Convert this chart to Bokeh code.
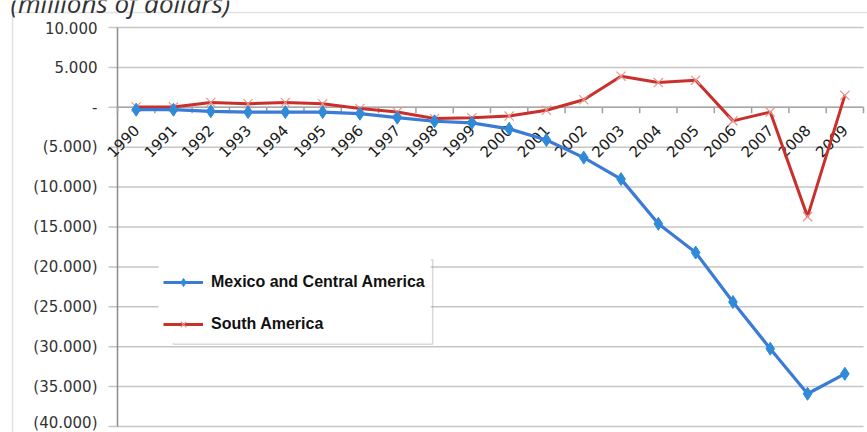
import numpy as np
from bokeh.plotting import figure
from bokeh.models import Range1d, Legend, LegendItem, BoxAnnotation, Label
from bokeh.core.properties import value
from bokeh.embed import file_html
from bokeh.resources import INLINE

# ---------------- data ----------------
years = [str(y) for y in range(1990, 2010)]
mexico_ca = [-300, -300, -500, -600, -600, -600, -800, -1300, -1750, -1950,
             -2700, -4100, -6300, -9000, -14600, -18200, -24400, -30250, -35900, -33400]
south_america = [50, 50, 600, 450, 600, 450, -150, -600, -1400, -1300,
                 -1100, -375, 950, 3900, 3100, 3400, -1700, -600, -13700, 1500]
y_ticks = [-40000, -35000, -30000, -25000, -20000, -15000, -10000, -5000, 0, 5000, 10000]
y_tick_labels = ["(40.000)", "(35.000)", "(30.000)", "(25.000)", "(20.000)", "(15.000)",
                 "(10.000)", "(5.000)", "-", "5.000", "10.000"]
title_text = "(millions of dollars)"
series_names = ["Mexico and Central America", "South America"]

# ---------------- layout helpers (pixels) ----------------
W, H = 867, 432
PLOT_L, PLOT_R = 117, 863          # plot area left/right in pixels
PLOT_T, PLOT_B = 27, 426           # plot area top/bottom in pixels
n = len(years)
ymin, ymax = y_ticks[0], y_ticks[-1]
px_x = (PLOT_R - PLOT_L) / n                   # pixels per category
px_y = (PLOT_B - PLOT_T) / (ymax - ymin)       # pixels per unit value

xc = [i + 0.5 for i in range(n)]               # category centres
bounds = list(range(n + 1))                    # category boundaries

x_range = Range1d(-PLOT_L / px_x, (W - PLOT_L) / px_x)
y_range = Range1d(ymin - (H - PLOT_B) / px_y, ymax + PLOT_T / px_y)

p = figure(width=W, height=H, x_range=x_range, y_range=y_range,
           output_backend="svg", toolbar_location=None,
           x_axis_location=None, y_axis_location=None, min_border=0)
p.outline_line_color = None
p.background_fill_color = "white"
p.border_fill_color = "white"
p.grid.visible = False

tick_len = 9 / px_x
# horizontal gridlines (extending left as tick marks)
p.segment(x0=[-tick_len] * len(y_ticks), y0=y_ticks, x1=[n] * len(y_ticks), y1=y_ticks,
          line_color="#C6C6C6", line_width=1.5)
# vertical value axis
p.segment(x0=[0], y0=[ymin], x1=[0], y1=[ymax], line_color="#8C8C8C", line_width=1.5)
# value labels (lowest one nudged up so it stays inside the picture)
label_dy = [-4] + [0] * (len(y_ticks) - 1)
p.text(x=[0] * len(y_ticks), y=y_ticks, text=y_tick_labels, x_offset=-20, y_offset=label_dy,
       text_align="right", text_baseline="middle",
       text_font=value("DejaVu Sans"), text_font_size="15px", text_color="#333333")

# zero line acting as category axis, with ticks at category boundaries
p.segment(x0=[0], y0=[0], x1=[n], y1=[0], line_color="#A8A8A8", line_width=1.5)
p.segment(x0=bounds, y0=[0] * len(bounds), x1=bounds, y1=[-6 / px_y] * len(bounds),
          line_color="#A0A0A0", line_width=1.5)

# category labels
p.text(x=xc, y=[0] * n, text=years, angle=np.pi / 4,
       text_align="right", text_baseline="middle", y_offset=20,
       text_font=value("DejaVu Sans"), text_font_size="15px", text_color="#1a1a1a")

# series
r_sa = p.line(xc, south_america, line_color="#C9302C", line_width=3)
r_sa_m = p.scatter(xc, south_america, marker="x", size=13,
                   line_color="#E8968A", line_width=1.2)
r_mx = p.line(xc, mexico_ca, line_color="#3A7BD5", line_width=3.2)
r_mx_m = p.scatter(xc, mexico_ca, marker="diamond", size=13,
                   fill_color="#2F8AD8", line_color="#2F8AD8")

# legend shadow box + white background
shadow = BoxAnnotation(left=1.5, right=8.45, top=-19100, bottom=-29700,
                       fill_alpha=0, line_color="#808080", line_width=1.5)
bg = BoxAnnotation(left=1.1, right=8.40, top=-19000, bottom=-29500,
                   fill_color="white", fill_alpha=1, line_color=None)
p.add_layout(shadow)
p.add_layout(bg)

legend = Legend(items=[LegendItem(label=series_names[0], renderers=[r_mx, r_mx_m]),
                       LegendItem(label=series_names[1], renderers=[r_sa, r_sa_m])],
                location=(163, 98), padding=0, margin=0, spacing=22,
                glyph_width=40, glyph_height=20, label_height=20, label_standoff=8,
                label_text_font="Liberation Sans", label_text_font_style="bold",
                label_text_font_size="16px", label_text_color="#111111",
                border_line_color=None, background_fill_alpha=0)
p.add_layout(legend)

# outer chart border (left and top edges visible) and title
outer = BoxAnnotation(left=12, right=W + 50, top=H - 12, bottom=-50,
                      left_units="screen", right_units="screen",
                      top_units="screen", bottom_units="screen",
                      fill_alpha=0, line_color="#A0A0A0", line_width=1.5)
p.add_layout(outer)
title = Label(x=10, y=H - 2, x_units="screen", y_units="screen", text=title_text,
              text_font="Open Sans", text_font_style="italic", text_font_size="26px",
              text_baseline="alphabetic", text_color="#333333")
p.add_layout(title)

open("out.html", "w").write(file_html(p, INLINE))
